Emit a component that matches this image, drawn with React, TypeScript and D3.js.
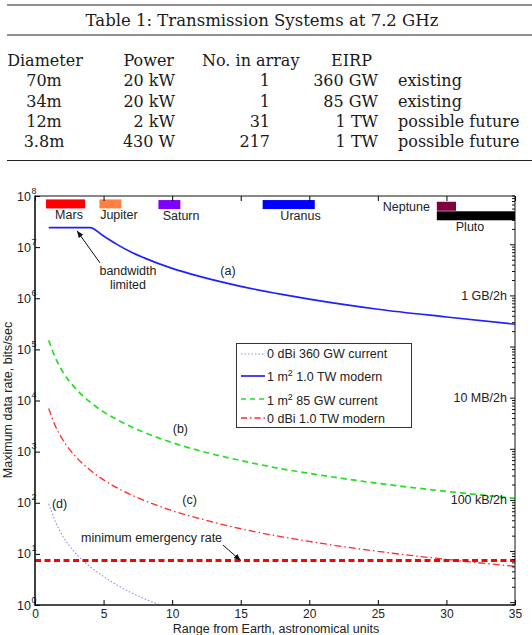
import React, { useEffect, useRef } from 'react';
import * as d3 from 'd3';

// table 1
const tableCaption = 'Table 1: Transmission Systems at 7.2 GHz';
const tableHeader = ['Diameter', 'Power', 'No. in array', 'EIRP'];
const diameters = ['70m', '34m', '12m', '3.8m'];
const powers = ['20 kW', '20 kW', '2 kW', '430 W'];
const arrayCounts = ['1', '1', '31', '217'];
const eirps = ['360 GW', '85 GW', '1 TW', '1 TW'];
const statuses = ['existing', 'existing', 'possible future', 'possible future'];

// range from Earth (AU) and data rates (bits/sec)
const rangeAu = [1, 1.5, 2, 3, 4, 5, 6, 7, 8, 10, 12, 15, 18, 20, 25, 30, 35];
const modern1m2 = [2.4e7, 2.4e7, 2.4e7, 2.4e7, 2.4e7, 1.65e7, 1.12e7, 8.0e6, 6.1e6, 3.84e6, 2.67e6, 1.71e6, 1.19e6, 9.6e5, 6.1e5, 4.3e5, 3.1e5];
const current1m2 = [1.5e5, 6.7e4, 3.75e4, 1.67e4, 9.4e3, 6.0e3, 4.2e3, 3.06e3, 2.35e3, 1.5e3, 1.04e3, 670, 460, 375, 240, 167, 122];
const modern0dbi = [7000, 3100, 1750, 780, 440, 280, 195, 143, 110, 70, 49, 31, 21.6, 17.5, 11.2, 7.8, 5.7];
const rangeAuD = [1, 1.5, 2, 3, 4, 5, 6, 7, 8, 9, 10];
const current0dbi = [95, 42, 23, 10, 5.7, 3.6, 2.45, 1.75, 1.32, 1.03, 0.83];
const emergencyRate = 7.4;

const legendLabels = ['0 dBi 360 GW current', '1 m² 1.0 TW modern', '1 m² 85 GW current', '0 dBi 1.0 TW modern'];

// planets: distance from Earth range in AU
const planets = ['Mars', 'Jupiter', 'Saturn', 'Uranus', 'Neptune', 'Pluto'];
const planetNear = [0.8, 4.7, 9.0, 16.6, 29.3, 29.3];
const planetFar = [3.65, 6.3, 10.6, 20.4, 30.7, 35];
const planetRate = [7.0e7, 7.0e7, 6.8e7, 6.8e7, 6.3e7, 4.1e7];
const planetLabelAu = [2.48, 6.12, 10.65, 19.36, 28.8, 31.72];

const xTicks = [0, 5, 10, 15, 20, 25, 30, 35];
const yDecades = [0, 1, 2, 3, 4, 5, 6, 7, 8];
// right axis in bytes per 2 hours
const rightTickValues = [1e9, 1e7, 1e5];
const rightTickLabels = ['1 GB/2h', '10 MB/2h', '100 kB/2h'];

export default function App() {
    const chart = useRef<SVGSVGElement>(null);

    useEffect(() => {
        const W = 532, H = 635;
        const svg = d3.select(chart.current);
        svg.selectAll('*').remove();
        svg.attr('width', W).attr('height', H);

        // ---------- table ----------
        const tbl = svg.append('g')
            .attr('font-family', '"DejaVu Serif", serif')
            .attr('font-size', 16)
            .attr('fill', '#1a1a1a');
        [5, 35, 160.5].forEach(yy => {
            tbl.append('line')
                .attr('x1', 7).attr('x2', W).attr('y1', yy).attr('y2', yy)
                .attr('stroke', '#222').attr('stroke-width', 1.2);
        });
        tbl.append('text').attr('x', 262).attr('y', 26).attr('text-anchor', 'middle')
            .attr('font-size', 16.5).text(tableCaption);

        const headX = [45, 174, 202, 351.5];
        const headAnchor = ['middle', 'end', 'start', 'middle'];
        tableHeader.forEach((h, i) => {
            tbl.append('text').attr('x', headX[i]).attr('y', 66)
                .attr('text-anchor', headAnchor[i]).text(h);
        });
        const rowY = [86, 106.5, 127, 147];
        const colX = [44, 175, 270, 378, 398];
        const colAnchor = ['middle', 'end', 'end', 'end', 'start'];
        diameters.forEach((d, i) => {
            [d, powers[i], arrayCounts[i], eirps[i], statuses[i]].forEach((v, j) => {
                tbl.append('text').attr('x', colX[j]).attr('y', rowY[i])
                    .attr('text-anchor', colAnchor[j]).text(v);
            });
        });

        // ---------- chart ----------
        const x = d3.scaleLinear().domain([0, 35]).range([35, 515]);
        const y = d3.scaleLog().domain([1, 1e8]).range([605, 196]);
        const yRight = d3.scaleLog().domain([900, 9e10]).range([605, 196]);

        const g = svg.append('g')
            .attr('font-family', '"Liberation Sans", Arial, sans-serif')
            .attr('font-size', 12.5)
            .attr('fill', '#222');

        svg.append('defs').append('clipPath').attr('id', 'plotclip')
            .append('rect').attr('x', 35).attr('y', 196).attr('width', 480).attr('height', 409);
        const marker = svg.select('defs').append('marker')
            .attr('id', 'arrowhead').attr('viewBox', '0 0 10 10')
            .attr('refX', 10).attr('refY', 5)
            .attr('markerWidth', 7).attr('markerHeight', 7)
            .attr('markerUnits', 'userSpaceOnUse')
            .attr('orient', 'auto');
        marker.append('path').attr('d', 'M0,1 L10,5 L0,9 Z').attr('fill', '#111');

        const plot = g.append('g').attr('clip-path', 'url(#plotclip)');

        // planet bars
        const planetColors = ['#ff0000', '#ff8040', '#8000ff', '#0000ff', '#800040', '#000000'];
        planets.forEach((p, i) => {
            plot.append('rect')
                .attr('x', x(planetNear[i]))
                .attr('width', x(planetFar[i]) - x(planetNear[i]))
                .attr('y', y(planetRate[i]) - 4.5)
                .attr('height', 9)
                .attr('fill', planetColors[i]);
            const isNeptune = p === 'Neptune';
            g.append('text')
                .attr('x', x(planetLabelAu[i]))
                .attr('y', isNeptune ? y(planetRate[i]) + 4.5 : y(planetRate[i]) + 15)
                .attr('text-anchor', isNeptune ? 'end' : 'middle')
                .text(p);
        });

        // curves
        const line = (xs: number[]) => d3.line<number>()
            .x((_, i) => x(xs[i]))
            .y(d => y(d))
            .curve(d3.curveMonotoneX);

        plot.append('path').attr('d', line(rangeAuD)(current0dbi))
            .attr('fill', 'none').attr('stroke', '#8c8cff').attr('stroke-width', 1.1)
            .attr('stroke-dasharray', '1.5,2');
        plot.append('path').attr('d', line(rangeAu)(modern1m2))
            .attr('fill', 'none').attr('stroke', '#2020ff').attr('stroke-width', 1.7);
        plot.append('path').attr('d', line(rangeAu)(current1m2))
            .attr('fill', 'none').attr('stroke', '#22e022').attr('stroke-width', 1.7)
            .attr('stroke-dasharray', '6,4');
        plot.append('path').attr('d', line(rangeAu)(modern0dbi))
            .attr('fill', 'none').attr('stroke', '#ff2a2a').attr('stroke-width', 1.3)
            .attr('stroke-dasharray', '7,3,1.5,3');
        plot.append('line')
            .attr('x1', x(0)).attr('x2', x(35))
            .attr('y1', y(emergencyRate)).attr('y2', y(emergencyRate))
            .attr('stroke', '#ff0000').attr('stroke-width', 3)
            .attr('stroke-dasharray', '6,3.5');

        // curve labels
        const curveTags = [['(a)', 14.07, 3.4e6], ['(b)', 10.6, 2.8e3], ['(c)', 11.27, 113], ['(d)', 1.79, 95]];
        curveTags.forEach(([t, r, v]) => {
            g.append('text').attr('x', x(r as number)).attr('y', y(v as number))
                .attr('dy', '0.35em').attr('text-anchor', 'middle').text(t as string);
        });

        // annotations with arrows
        g.append('text').attr('x', x(6.78)).attr('y', y(3.4e6)).attr('dy', '0.35em')
            .attr('text-anchor', 'middle').text('bandwidth');
        g.append('text').attr('x', x(6.78)).attr('y', y(1.83e6)).attr('dy', '0.35em')
            .attr('text-anchor', 'middle').text('limited');
        g.append('line')
            .attr('x1', x(4.74)).attr('y1', y(4.9e6)).attr('x2', x(3.06)).attr('y2', y(2.09e7))
            .attr('stroke', '#111').attr('stroke-width', 1).attr('marker-end', 'url(#arrowhead)');
        g.append('text').attr('x', x(13.64)).attr('y', y(20.5)).attr('dy', '0.35em')
            .attr('text-anchor', 'end').text('minimum emergency rate');
        g.append('line')
            .attr('x1', x(13.7)).attr('y1', y(14.9)).attr('x2', x(15)).attr('y2', y(emergencyRate))
            .attr('stroke', '#111').attr('stroke-width', 1).attr('marker-end', 'url(#arrowhead)');

        // axes
        const bottom = g.append('g').attr('transform', 'translate(0,605)')
            .call(d3.axisBottom(x).tickValues(xTicks).tickSizeInner(-5).tickSizeOuter(0).tickPadding(4.5));
        bottom.attr('font-size', 12).attr('font-family', null);
        bottom.select('.domain').remove();
        bottom.selectAll('text').attr('fill', '#222');

        const top = g.append('g').attr('transform', 'translate(0,196)')
            .call(d3.axisTop(x).tickValues(xTicks).tickSizeInner(-5).tickSizeOuter(0).tickFormat(() => ''));
        top.select('.domain').remove();

        const left = g.append('g').attr('transform', 'translate(35,0)')
            .call(d3.axisLeft(y).tickValues(yDecades.map(k => Math.pow(10, k))).tickSizeInner(-5).tickSizeOuter(0).tickFormat(() => ''));
        left.select('.domain').remove();
        yDecades.forEach(k => {
            const yy = y(Math.pow(10, k));
            g.append('text').attr('x', 31).attr('y', yy + 4.5).attr('text-anchor', 'end').text('10');
            g.append('text').attr('x', 31.5).attr('y', yy - 2.5).attr('font-size', 9).text(String(k));
        });

        const rticks = yRight.ticks().filter(v => v >= 900 && v <= 9e10);
        rticks.forEach(v => {
            const major = Math.abs(Math.log10(v) - Math.round(Math.log10(v))) < 1e-6;
            g.append('line')
                .attr('x1', 515).attr('x2', 515 - (major ? 5 : 3))
                .attr('y1', yRight(v)).attr('y2', yRight(v))
                .attr('stroke', '#111').attr('stroke-width', 1);
        });
        rightTickValues.forEach((v, i) => {
            g.append('text').attr('x', 507).attr('y', yRight(v) + 4)
                .attr('text-anchor', 'end').text(rightTickLabels[i]);
        });

        // frame
        g.append('line').attr('x1', 35).attr('x2', 515).attr('y1', 196).attr('y2', 196).attr('stroke', '#111').attr('stroke-width', 1);
        g.append('line').attr('x1', 515).attr('x2', 515).attr('y1', 196).attr('y2', 605).attr('stroke', '#111').attr('stroke-width', 1);
        g.append('line').attr('x1', 35).attr('x2', 35).attr('y1', 195.5).attr('y2', 605.5).attr('stroke', '#111').attr('stroke-width', 1.6);
        g.append('line').attr('x1', 34.5).attr('x2', 515.5).attr('y1', 605).attr('y2', 605).attr('stroke', '#111').attr('stroke-width', 1.6);

        // axis titles
        g.append('text').attr('x', 276).attr('y', 633).attr('text-anchor', 'middle')
            .text('Range from Earth, astronomical units');
        g.append('text').attr('transform', 'translate(12,400) rotate(-90)')
            .attr('text-anchor', 'middle').text('Maximum data rate, bits/sec');

        // legend
        const leg = g.append('g');
        leg.append('rect').attr('x', 236.5).attr('y', 343.5).attr('width', 175).attr('height', 84)
            .attr('fill', '#fff').attr('stroke', '#333').attr('stroke-width', 1);
        const legStyles = [
            { stroke: '#8c8cff', width: 1.1, dash: '1.5,2' },
            { stroke: '#2020ff', width: 1.7, dash: null },
            { stroke: '#22e022', width: 1.7, dash: '5,4' },
            { stroke: '#ff2a2a', width: 1.3, dash: '6,3,1.5,3' },
        ];
        const legLineY = [354, 376, 399, 418];
        const legTextY = [358, 381, 405, 423];
        legendLabels.forEach((lab, i) => {
            leg.append('line').attr('x1', 241).attr('x2', 265)
                .attr('y1', legLineY[i]).attr('y2', legLineY[i])
                .attr('stroke', legStyles[i].stroke).attr('stroke-width', legStyles[i].width)
                .attr('stroke-dasharray', legStyles[i].dash);
            const parts = lab.split('²');
            const t = leg.append('text').attr('x', 267).attr('y', legTextY[i]);
            t.append('tspan').text(parts[0]);
            if (parts.length > 1) {
                t.append('tspan').attr('dy', -5).attr('font-size', 9).text('2');
                t.append('tspan').attr('dy', 5).text(parts[1]);
            }
        });
    }, []);

    return (
        <svg ref={chart} style={{ position: 'absolute', left: 0, top: 0, background: '#fff' }} />
    );
}
